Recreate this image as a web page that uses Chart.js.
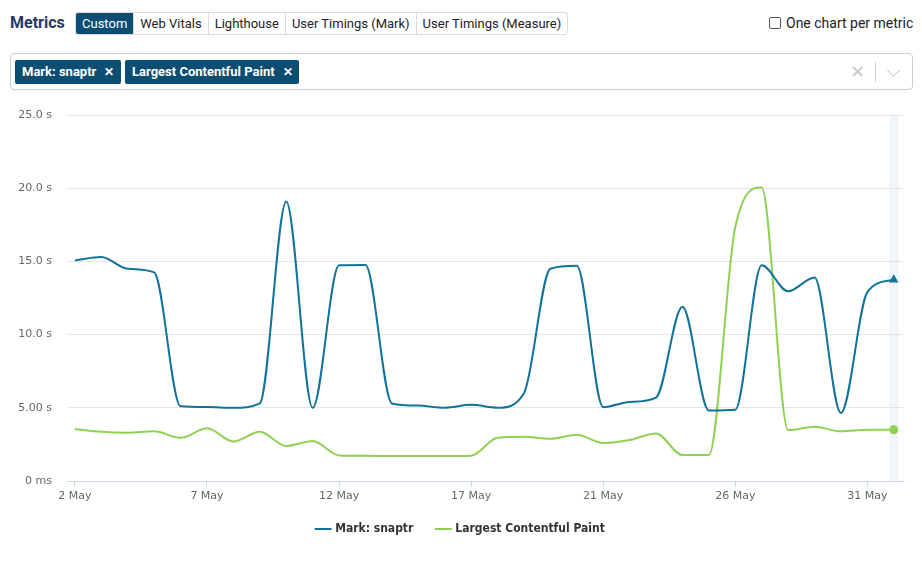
<!DOCTYPE html>
<html>
<head>
<meta charset="utf-8">
<script src="https://cdn.jsdelivr.net/npm/chart.js@4/dist/chart.umd.min.js"></script>
<style>
  html, body { margin: 0; padding: 0; background: #fff; width: 922px; height: 565px; overflow: hidden; font-family: Roboto, "Liberation Sans", sans-serif; }
  .title { position: absolute; left: 10px; top: 11px; font-size: 16px; font-weight: bold; color: #2a3766; line-height: 24px; }
  .group { position: absolute; left: 75px; top: 12px; height: 23px; display: flex; border: 1px solid #dcdcdc; border-radius: 3px; box-sizing: border-box; overflow: hidden; }
  .group div { font-size: 13px; line-height: 21px; padding: 0 6px; color: #222; border-left: 1px solid #dcdcdc; white-space: nowrap; }
  .group div:first-child { border-left: none; }
  .group div.active { background: #0c4d72; color: #fff; }
  .cb { position: absolute; left: 769px; top: 17px; width: 12px; height: 12px; border: 1px solid #555; border-radius: 2px; box-sizing: border-box; }
  .cblabel { position: absolute; left: 786px; top: 14px; font-size: 14px; line-height: 18px; color: #222; white-space: nowrap; }
  .select { position: absolute; left: 10px; top: 53px; width: 903px; height: 37px; border: 1px solid #cccccc; border-radius: 4px; box-sizing: border-box; }
  .chip { position: absolute; top: 6px; height: 24px; background: #0c4d72; color: #fff; border-radius: 2px; font-size: 13px; font-weight: bold; line-height: 24px; padding: 0 0 0 7px; box-sizing: border-box; white-space: nowrap; }
  .chip span { display: inline-block; margin-left: 8px; margin-right: 7px; font-size: 12px; }
  .clear { position: absolute; left: 839px; top: 6px; font-size: 18px; line-height: 24px; color: #c8c8c8; }
  .sep { position: absolute; left: 864px; top: 8px; width: 1px; height: 20px; background: #cccccc; }
  .chev { position: absolute; left: 878px; top: 12px; width: 8px; height: 8px; border-right: 1.5px solid #c8c8c8; border-bottom: 1.5px solid #c8c8c8; transform: rotate(45deg); }
  .chartbox { position: absolute; left: 0; top: 100px; width: 922px; height: 465px; }
</style>
</head>
<body>
<div class="title">Metrics</div>
<div class="group">
  <div class="active">Custom</div><div>Web Vitals</div><div>Lighthouse</div><div>User Timings (Mark)</div><div>User Timings (Measure)</div>
</div>
<div class="cb"></div>
<div class="cblabel">One chart per metric</div>
<div class="select">
  <div class="chip" style="left:4px;width:106px;">Mark: snaptr<span>✕</span></div>
  <div class="chip" style="left:114px;width:174px;">Largest Contentful Paint<span>✕</span></div>
  <div class="clear">✕</div>
  <div class="sep"></div>
  <div class="chev"></div>
</div>
<div class="chartbox"><canvas id="c"></canvas></div>
<script>
// ---- data (seconds) ----
const seriesNames = ["Mark: snaptr", "Largest Contentful Paint"];
const markSnaptr = [15.07, 15.3, 14.5, 14.25, 5.1, 5.05, 5.0, 5.3, 19.1, 5.0,
                    14.73, 14.75, 5.3, 5.15, 5.0, 5.2, 5.0, 6.0, 14.5, 14.7,
                    5.05, 5.4, 5.7, 11.9, 4.82, 4.87, 14.73, 12.96, 13.9, 4.65,
                    12.9, 13.75];
const lcp = [3.55, 3.36, 3.3, 3.39, 2.95, 3.6, 2.7, 3.36, 2.39, 2.73,
             1.75, 1.72, 1.7, 1.7, 1.7, 1.73, 2.95, 3.02, 2.89, 3.16,
             2.59, 2.8, 3.25, 1.77, 1.77, 17.35, 20.05, 3.48, 3.7, 3.39,
             3.5, 3.5];
const xTickIndex = [0, 5, 10, 15, 20, 25, 30];
const xTickLabels = ["2 May", "7 May", "12 May", "17 May", "21 May", "26 May", "31 May"];
const yTickValues = [0, 5, 10, 15, 20, 25];
const yTickLabels = ["0 ms", "5.00 s", "10.0 s", "15.0 s", "20.0 s", "25.0 s"];
const hoverIndex = 31;

const colors = ["#11739a", "#8fd253"];
const pointStyles = ["triangle", "circle"];
const markerRadius = [5.5, 4.5];

function toPoints(arr) { return arr.map((v, i) => ({ x: i, y: v })); }

const crosshair = {
  id: 'crosshair',
  afterLayout(chart) {
    // let the x tick labels' clip box extend below the (compact) axis box
    chart.scales.x.bottom += 10;
  },
  beforeDatasetsDraw(chart) {
    const { ctx, chartArea, scales } = chart;
    const x = scales.x.getPixelForValue(hoverIndex);
    ctx.save();
    ctx.fillStyle = 'rgba(204,220,238,0.28)';
    ctx.fillRect(x - 4.5, chartArea.top, 9, chartArea.bottom - chartArea.top);
    ctx.restore();
  }
};

const FONT = '"DejaVu Sans", Verdana, sans-serif';

new Chart(document.getElementById('c'), {
  type: 'line',
  data: {
    datasets: [markSnaptr, lcp].map((arr, k) => ({
      label: seriesNames[k],
      data: toPoints(arr),
      borderColor: colors[k],
      backgroundColor: colors[k],
      borderWidth: 2,
      cubicInterpolationMode: 'monotone',
      pointStyle: pointStyles[k],
      pointRadius: ctx => ctx.dataIndex === hoverIndex ? markerRadius[k] : 0,
      pointBorderWidth: 0,
      fill: false
    }))
  },
  options: {
    responsive: true,
    maintainAspectRatio: false,
    animation: false,
    events: [],
    layout: { padding: { top: 15, right: 0, bottom: 20, left: 0 } },
    plugins: {
      tooltip: { enabled: false },
      legend: {
        position: 'bottom',
        labels: {
          usePointStyle: true,
          pointStyle: 'line',
          boxWidth: 16,
          padding: 24,
          color: '#333333',
          font: { family: '"DejaVu Sans Condensed", ' + FONT, size: 12, weight: 'bold' },
          generateLabels(chart) {
            return chart.data.datasets.map((ds, i) => ({
              text: ds.label, strokeStyle: ds.borderColor, fillStyle: ds.borderColor,
              lineWidth: 2, pointStyle: 'line', datasetIndex: i, hidden: false, fontColor: '#333333'
            }));
          }
        }
      }
    },
    scales: {
      x: {
        type: 'linear',
        min: -0.3,
        max: 31.35,
        afterBuildTicks(scale) { scale.ticks = xTickIndex.map(v => ({ value: v })); },
        afterFit(scale) { scale.height = 18; },
        ticks: {
          color: '#666666',
          font: { family: FONT, size: 11 },
          padding: 3,
          maxRotation: 0,
          autoSkip: false,
          callback(value) { const i = xTickIndex.indexOf(value); return i >= 0 ? xTickLabels[i] : ''; }
        },
        grid: { display: true, drawOnChartArea: false, drawTicks: true, tickLength: 6, color: '#ccd6eb', lineWidth: 1 },
        border: { display: true, color: '#ccd6eb', width: 1 }
      },
      y: {
        min: 0,
        max: 25,
        afterBuildTicks(scale) { scale.ticks = yTickValues.map(v => ({ value: v })); },
        afterFit(scale) { scale.width = 67; scale.paddingTop = 0; scale.paddingBottom = 0; },
        ticks: {
          color: '#666666',
          font: { family: FONT, size: 11 },
          padding: 15,
          callback(value) { const i = yTickValues.indexOf(value); return i >= 0 ? yTickLabels[i] : ''; }
        },
        grid: { color: '#e6e6e6', drawTicks: false, lineWidth: 1 },
        border: { display: false }
      },
      yRight: {
        position: 'right',
        display: true,
        afterFit(scale) { scale.width = 19; scale.paddingTop = 0; scale.paddingBottom = 0; },
        ticks: { display: false },
        grid: { display: false, drawOnChartArea: false },
        border: { display: false }
      }
    }
  },
  plugins: [crosshair]
});
</script>
</body>
</html>
